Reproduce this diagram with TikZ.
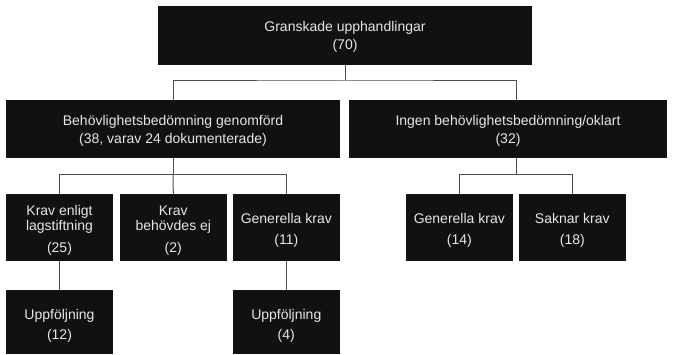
\documentclass[tikz,border=0pt]{standalone}
\usepackage{fontspec}
\setmainfont{Liberation Sans}
\definecolor{boxfill}{HTML}{111111}
\definecolor{boxtext}{HTML}{E6E6E6}
\definecolor{linec}{HTML}{4D4D4D}
\newcommand{\dn}[1]{\rule{0pt}{#1}}
\begin{document}
\begin{tikzpicture}[x=1pt,y=-1pt,
  box/.style={fill=boxfill,draw=none,text=boxtext,inner sep=0pt,align=center,
    font={\fontsize{14}{15.5}\selectfont}},
  conn/.style={draw=linec,line width=1pt}]
\useasboundingbox (0,0) rectangle (674,355);
% level 1
\node[box,minimum width=374pt,minimum height=59pt] (top) at (345,35.5) {\dn{12pt}Granskade upphandlingar\\[2.5pt](70)};
% level 2
\node[box,minimum width=334pt,minimum height=58pt] (gen) at (173,129) {\dn{13pt}Behövlighetsbedömning genomförd\\[2.5pt](38, varav 24 dokumenterade)};
\node[box,minimum width=318pt,minimum height=58pt] (ing) at (508,129) {\dn{13pt}Ingen behövlighetsbedömning/oklart\\[2.5pt](32)};
% level 3
\node[box,minimum width=107pt,minimum height=67pt] (kel) at (59.5,227.5) {\dn{15.5pt}Krav enligt\\lagstiftning\\[6pt](25)};
\node[box,minimum width=106.6pt,minimum height=67pt] (kbe) at (173.3,227.5) {\dn{15.5pt}Krav\\behövdes ej\\[6pt](2)};
\node[box,minimum width=106.6pt,minimum height=67pt] (gkl) at (286.3,227.5) {\dn{15.5pt}Generella krav\\[5pt](11)};
\node[box,minimum width=106.5pt,minimum height=67pt] (gkr) at (459.3,227.5) {\dn{15.5pt}Generella krav\\[5pt](14)};
\node[box,minimum width=106.5pt,minimum height=67pt] (sak) at (572.3,227.5) {\dn{15.5pt}Saknar krav\\[5pt](18)};
% level 4
\node[box,minimum width=107pt,minimum height=64pt] (uf1) at (59.5,322) {\dn{17.5pt}Uppföljning\\[4.5pt](12)};
\node[box,minimum width=106.6pt,minimum height=64pt] (uf2) at (286.3,322) {\dn{17.5pt}Uppföljning\\[4.5pt](4)};
% junction coordinates
\coordinate (j1) at (345,81);
\coordinate (ingin) at (516,100);
\coordinate (ingout) at (516,158);
\coordinate (j2) at (173,174.3);
\coordinate (j3) at (516,174.3);
% connectors
\draw[conn] (top.south) -- (j1);
\draw[conn] (gen.north) |- (j1) -| (ingin);
\draw[conn] (gen.south) -- (j2);
\draw[conn] (kel.north) |- (j2) -| (gkl.north);
\draw[conn] (j2) -- (kbe.north);
\draw[conn] (ingout) -- (j3);
\draw[conn] (gkr.north) |- (j3) -| (sak.north);
\draw[conn] (kel.south) -- (uf1.north);
\draw[conn] (gkl.south) -- (uf2.north);
\end{tikzpicture}
\end{document}
